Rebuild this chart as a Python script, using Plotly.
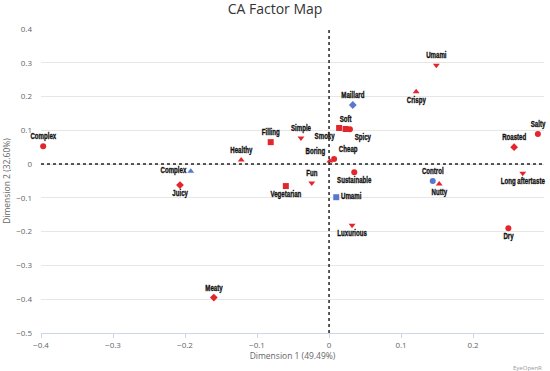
import plotly.graph_objects as go

# Red series (attributes / products)
red_labels = ["Complex", "Healthy", "Filling", "Simple", "Smoky", "Soft", "Spicy", "Crispy",
              "Umami", "Salty", "Roasted", "Long aftertaste", "Nutty", "Dry", "Luxurious",
              "Sustainable", "Cheap", "Boring", "Fun", "Vegetarian", "Juicy", "Meaty"]
red_x = [-0.397, -0.122, -0.081, -0.039, 0.014, 0.023, 0.029, 0.121,
         0.149, 0.290, 0.257, 0.269, 0.153, 0.249, 0.032,
         0.035, 0.007, 0.001, -0.024, -0.060, -0.207, -0.160]
red_y = [0.053, 0.012, 0.065, 0.077, 0.107, 0.104, 0.103, 0.214,
         0.293, 0.089, 0.050, -0.027, -0.059, -0.190, -0.181,
         -0.024, 0.015, 0.009, -0.056, -0.065, -0.062, -0.395]
red_symbols = ["circle", "triangle-up", "square", "triangle-down", "square", "square", "circle",
               "triangle-up", "triangle-down", "circle", "diamond", "triangle-down", "triangle-up",
               "circle", "triangle-down", "circle", "circle", "triangle-up", "triangle-down",
               "square", "diamond", "diamond"]
red_pos = ["top center", "top center", "top center", "top center", "bottom left", "top center",
           "bottom right", "bottom center", "top center", "top center", "top center",
           "bottom center", "bottom center", "bottom center", "bottom center", "bottom center",
           "top right", "top left", "top center", "bottom center", "bottom center", "top center"]

# Blue series
blue_labels = ["Complex", "Maillard", "Umami", "Control"]
blue_x = [-0.192, 0.033, 0.010, 0.144]
blue_y = [-0.021, 0.175, -0.098, -0.050]
blue_symbols = ["triangle-up", "diamond", "square", "circle"]
blue_pos = ["middle left", "top center", "middle right", "top center"]

x_ticks = [-0.4, -0.3, -0.2, -0.1, 0, 0.1, 0.2]
x_ticktext = ["\u22120.4", "\u22120.3", "\u22120.2", "\u22120.1", "0", "0.1", "0.2"]
y_ticks = [-0.5, -0.4, -0.3, -0.2, -0.1, 0, 0.1, 0.2, 0.3, 0.4]
y_ticktext = ["\u22120.5", "\u22120.4", "\u22120.3", "\u22120.2", "\u22120.1", "0", "0.1", "0.2", "0.3", "0.4"]

label_font = dict(family="Liberation Sans, Arial, sans-serif",
                  size=8.5, color="#111111", weight="bold")
axis_font = "Open Sans, sans-serif"

fig = go.Figure()
fig.add_trace(go.Scatter(
    x=red_x, y=red_y, mode="markers+text", text=red_labels, textposition=red_pos,
    marker=dict(color="#e3262b", size=6, symbol=red_symbols),
    textfont=label_font, hoverinfo="text", showlegend=False, cliponaxis=False))
fig.add_trace(go.Scatter(
    x=blue_x, y=blue_y, mode="markers+text", text=blue_labels, textposition=blue_pos,
    marker=dict(color="#5878d0", size=6, symbol=blue_symbols),
    textfont=label_font, hoverinfo="text", showlegend=False, cliponaxis=False))

fig.update_layout(
    width=550, height=371,
    margin=dict(l=41, r=6, t=29, b=38),
    paper_bgcolor="white", plot_bgcolor="white",
    title=dict(text="CA Factor Map", x=0.5, xanchor="center", y=0.99, yanchor="top",
               font=dict(family=axis_font, size=14, color="#333333")),
    xaxis=dict(range=[-0.4, 0.2985], tickvals=x_ticks, ticktext=x_ticktext, automargin=False,
               showgrid=False, zeroline=False, showline=True, linecolor="#ccd6eb", linewidth=1,
               ticks="outside", ticklen=4, tickcolor="#ccd6eb",
               tickfont=dict(family=axis_font, size=8, color="#666666"),
               title=dict(text="Dimension 1 (49.49%)", standoff=4,
                          font=dict(family=axis_font, size=8.5, color="#666666"))),
    yaxis=dict(range=[-0.5, 0.4], tickvals=y_ticks, ticktext=y_ticktext, automargin=False,
               showgrid=True, gridcolor="#e6e6e6", gridwidth=1, zeroline=False,
               ticklabelstandoff=8,
               tickfont=dict(family=axis_font, size=8, color="#666666"),
               title=dict(text="Dimension 2 (32.60%)", standoff=4,
                          font=dict(family=axis_font, size=8.5, color="#666666"))),
    shapes=[
        dict(type="line", xref="x", yref="paper", x0=0, x1=0, y0=0, y1=1,
             line=dict(color="#222222", width=1.5, dash="dot")),
        dict(type="line", xref="paper", yref="y", x0=0, x1=1, y0=0, y1=0,
             line=dict(color="#222222", width=1.5, dash="dot")),
    ],
    annotations=[dict(text="EyeOpenR", xref="paper", yref="paper", x=1, y=-0.095,
                      xanchor="right", yanchor="top", showarrow=False,
                      font=dict(family=axis_font, size=6, color="#999999"))],
)

post_js = """
document.body.style.margin = '0px';
var gd = document.getElementById('{plot_id}');
function squeeze() {
  document.querySelectorAll('.textpoint text').forEach(function (t) {
    var a = t.getAttribute('text-anchor');
    var o = a === 'start' ? 'left' : (a === 'end' ? 'right' : 'center');
    t.style.transformBox = 'fill-box';
    t.style.transformOrigin = o + ' center';
    t.style.transform = 'scaleX(0.72)';
    t.style.stroke = '#111111';
    t.style.strokeWidth = '0.35px';
  });
}
squeeze();
gd.on('plotly_afterplot', squeeze);
"""

fig.write_html("out.html", post_script=post_js, config={"displayModeBar": False})
